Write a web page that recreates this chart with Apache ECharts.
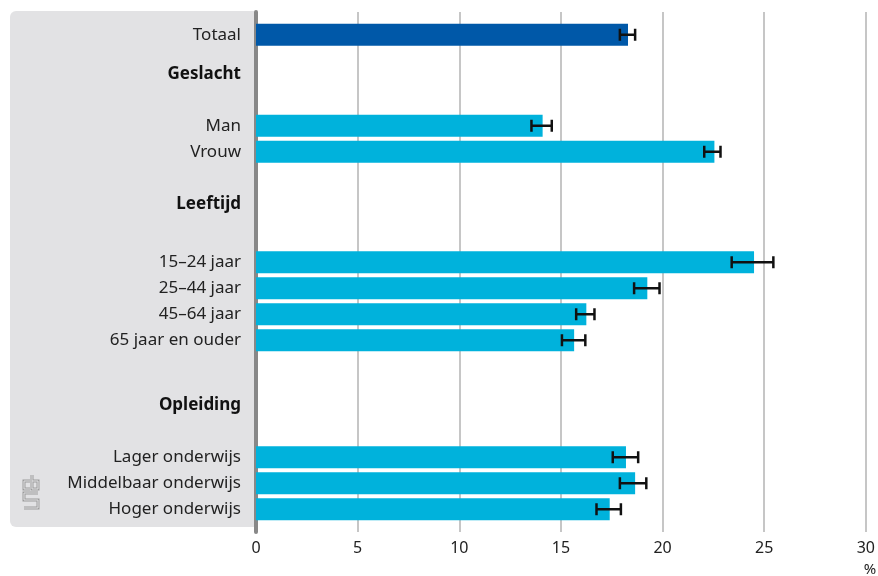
<!DOCTYPE html>
<html>
<head>
<meta charset="utf-8">
<script src="https://cdn.jsdelivr.net/npm/echarts@6/dist/echarts.min.js"></script>
<style>html,body{margin:0;padding:0;background:#fff}#c{width:878px;height:576px}</style>
</head>
<body>
<div id="c"></div>
<script>
// Category rows of the axis (blank strings are the spacer rows of the original layout)
const categories = [
  '', '', '', 'Totaal', '', '', '', '', '', 'Geslacht',
  '', '', '', '', '', '', '', 'Man', '', '',
  '', 'Vrouw', '', '', '', '', '', '', '', 'Leeftijd',
  '', '', '', '', '', '', '', '', '15–24 jaar', '',
  '', '', '25–44 jaar', '', '', '', '45–64 jaar', '', '', '',
  '65 jaar en ouder', '', '', '', '', '', '', '', '', '',
  'Opleiding', '', '', '', '', '', '', '', 'Lager onderwijs', '',
  '', '', 'Middelbaar onderwijs', '', '', '', 'Hoger onderwijs', '', '', ''
];
const headers = ['Geslacht', 'Leeftijd', 'Opleiding'];
const barLabels = ['Totaal', 'Man', 'Vrouw', '15–24 jaar', '25–44 jaar', '45–64 jaar', '65 jaar en ouder',
                   'Lager onderwijs', 'Middelbaar onderwijs', 'Hoger onderwijs'];
const values = [18.3, 14.1, 22.55, 24.5, 19.25, 16.25, 15.65, 18.2, 18.65, 17.4];
const lower  = [17.9, 13.55, 22.05, 23.4, 18.6, 15.75, 15.05, 17.55, 17.9, 16.75];
const upper  = [18.65, 14.55, 22.85, 25.45, 19.85, 16.65, 16.2, 18.8, 19.2, 17.95];
const xTicks = [0, 5, 10, 15, 20, 25, 30];
const unit = '%';

const FONT = 'Noto Sans';
const PANEL = '#e2e2e4';
const barData = barLabels.map((l, i) => ({
  value: [values[i], l],
  itemStyle: {color: l === 'Totaal' ? '#0058a8' : '#00b2dc'}
}));
const errData = barLabels.map((l, i) => [l, lower[i], upper[i]]);

const logoC = [[30,481],[24,481],[24,489],[30,489]];
const logoB = [[32,475],[32,489],[38,489],[38,481],[32,481]];
const logoS = [[38,493],[24,493],[24,500],[38,500],[38,508],[24,508]];
const logo = [];
[logoC, logoB, logoS].forEach(pts => {
  logo.push({type: 'polyline', z: 5, shape: {points: pts}, style: {stroke: '#9c9c9c', lineWidth: 3, fill: null}});
  logo.push({type: 'polyline', z: 6, shape: {points: pts}, style: {stroke: PANEL, lineWidth: 1, fill: null}});
});

const chart = echarts.init(document.getElementById('c'), null, {renderer: 'canvas'});
chart.setOption({
  animation: false,
  textStyle: {fontFamily: FONT},
  graphic: [
    {type: 'rect', z: -10, shape: {x: 10, y: 11, width: 244, height: 516, r: [6, 0, 0, 6]}, style: {fill: PANEL}},
    ...logo,
    {type: 'text', style: {text: unit, x: 870, y: 570, align: 'center', verticalAlign: 'middle', font: '15px "Noto Sans"', fill: '#222'}}
  ],
  grid: {left: 256, right: 10, top: 12, bottom: 44, containLabel: false},
  xAxis: {
    type: 'value', min: xTicks[0], max: xTicks[xTicks.length - 1], interval: 5,
    axisLine: {show: false}, axisTick: {show: false},
    splitLine: {show: true, lineStyle: {color: '#b3b3b3', width: 1.5}},
    axisLabel: {color: '#222', fontSize: 16, margin: 8, fontFamily: FONT}
  },
  yAxis: {
    type: 'category', data: categories, inverse: true, offset: 2,
    axisLine: {show: true, lineStyle: {color: '#888', width: 4}},
    axisTick: {show: false},
    axisLabel: {
      interval: 0, margin: 13, color: '#222', fontSize: 17, fontFamily: FONT,
      formatter: v => headers.includes(v) ? '{b|' + v + '}' : v,
      rich: {b: {fontWeight: 'bold', fontSize: 17, color: '#111', fontFamily: FONT}}
    }
  },
  series: [
    {type: 'bar', data: barData, barWidth: 22, z: 2},
    {
      type: 'custom', z: 5, data: errData,
      encode: {x: [1, 2], y: 0},
      renderItem: (params, api) => {
        const a = api.coord([api.value(1), api.value(0)]);
        const b = api.coord([api.value(2), api.value(0)]);
        const h = 6;
        const st = {stroke: '#111', lineWidth: 2.5};
        return {type: 'group', children: [
          {type: 'line', shape: {x1: a[0], y1: a[1], x2: b[0], y2: b[1]}, style: st},
          {type: 'line', shape: {x1: a[0], y1: a[1] - h, x2: a[0], y2: a[1] + h}, style: st},
          {type: 'line', shape: {x1: b[0], y1: b[1] - h, x2: b[0], y2: b[1] + h}, style: st}
        ]};
      }
    }
  ]
});
</script>
</body>
</html>
